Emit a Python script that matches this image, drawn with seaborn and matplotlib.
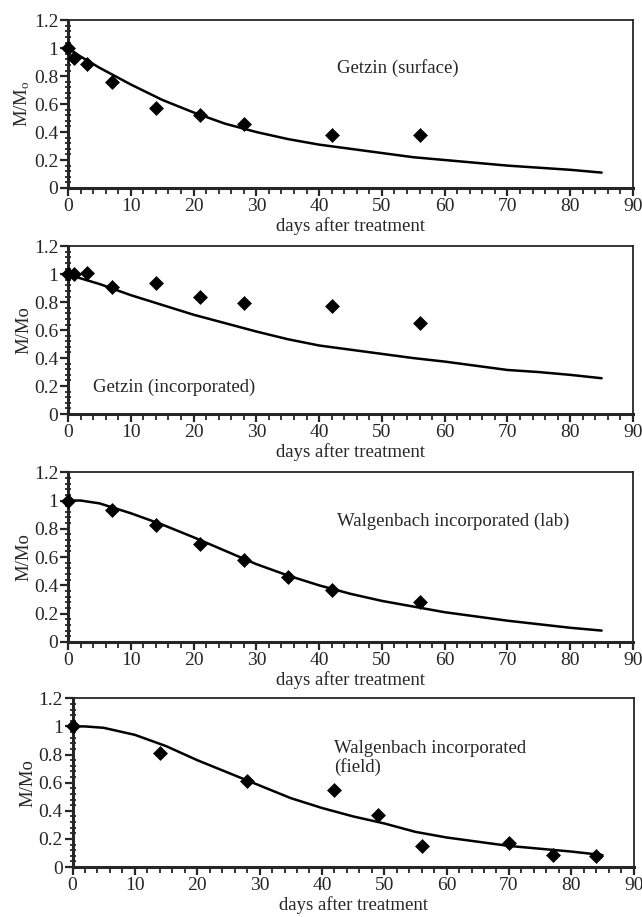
import matplotlib
matplotlib.use("Agg")
import matplotlib.pyplot as plt
from matplotlib.ticker import MultipleLocator, FuncFormatter
import seaborn as sns
import pandas as pd

sns.set_style("ticks")
plt.rcParams["font.family"] = ["Liberation Serif", "DejaVu Serif"]
plt.rcParams["mathtext.fontset"] = "custom"
plt.rcParams["mathtext.rm"] = "Liberation Serif"
plt.rcParams["mathtext.it"] = "Liberation Serif"

# ---- measured residues (M/Mo) ----
surf_days = [0, 1, 3, 7, 14, 21, 28, 42, 56]
surf_obs = [1.0, 0.93, 0.89, 0.76, 0.575, 0.52, 0.46, 0.38, 0.38]

inc_days = [0, 1, 3, 7, 14, 21, 28, 42, 56]
inc_obs = [1.0, 1.0, 1.01, 0.91, 0.94, 0.84, 0.795, 0.775, 0.65]

lab_days = [0, 7, 14, 21, 28, 35, 42, 56]
lab_obs = [1.0, 0.93, 0.83, 0.69, 0.578, 0.46, 0.365, 0.285]

field_days = [0, 14, 28, 42, 49, 56, 70, 77, 84]
field_obs = [1.0, 0.81, 0.61, 0.545, 0.373, 0.15, 0.17, 0.085, 0.075]

# ---- simulated curves (M/Mo) ----
model_days = [0, 2, 5, 10, 15, 20, 25, 30, 35, 40, 45, 50, 55, 60, 65, 70, 75, 80, 85]
surf_model = [1.0, 0.94, 0.86, 0.74, 0.63, 0.54, 0.46, 0.40, 0.35, 0.31, 0.28,
              0.25, 0.22, 0.20, 0.18, 0.16, 0.145, 0.13, 0.11]
inc_model = [1.0, 0.97, 0.93, 0.85, 0.78, 0.71, 0.65, 0.59, 0.535, 0.49, 0.46,
             0.43, 0.40, 0.375, 0.345, 0.315, 0.30, 0.28, 0.256]
lab_model = [1.0, 1.0, 0.98, 0.91, 0.83, 0.74, 0.645, 0.55, 0.47, 0.40, 0.34,
             0.29, 0.25, 0.21, 0.18, 0.15, 0.125, 0.10, 0.08]
field_model = [1.0, 1.0, 0.99, 0.94, 0.86, 0.76, 0.67, 0.58, 0.49, 0.42, 0.36,
               0.31, 0.25, 0.21, 0.18, 0.15, 0.13, 0.11, 0.085]

panel_titles = ["Getzin (surface)", "Getzin (incorporated)",
                "Walgenbach incorporated (lab)", "Walgenbach incorporated\n(field)"]
ylabels = ["M/M$_\\mathrm{o}$", "M/Mo", "M/Mo", "M/Mo"]
xlabel = "days after treatment"

panels = [
    (surf_days, surf_obs, surf_model),
    (inc_days, inc_obs, inc_model),
    (lab_days, lab_obs, lab_model),
    (field_days, field_obs, field_model),
]

# axes rectangles in figure fractions
rects = [
    [0.106, 0.795, 0.880, 0.183],
    [0.106, 0.5485, 0.880, 0.183],
    [0.106, 0.300, 0.880, 0.185],
    [0.113, 0.0545, 0.874, 0.184],
]
title_pos = [(42.8, 0.86), (4.0, 0.19), (42.8, 0.85), (42.0, 0.775)]

fig = plt.figure(figsize=(6.42, 9.17), dpi=100)
FS_TICK = 14
FS_TEXT = 13.5

def fmt(v, _):
    s = f"{v:.1f}"
    if s.endswith(".0"):
        s = s[:-2]
    return s

for i, ((d_obs, y_obs, y_mod), rect) in enumerate(zip(panels, rects)):
    ax = fig.add_axes(rect)
    curve = pd.DataFrame({"day": model_days, "ratio": y_mod})
    obs = pd.DataFrame({"day": d_obs, "ratio": y_obs})
    sns.lineplot(data=curve, x="day", y="ratio", ax=ax, color="black",
                 linewidth=1.8, estimator=None, sort=True)
    sns.scatterplot(data=obs, x="day", y="ratio", ax=ax, marker="D", s=50,
                    color="black", edgecolor="black", linewidth=0.5,
                    clip_on=False, zorder=5)

    ax.set_xlim(0, 90)
    ax.set_ylim(0, 1.2)
    ax.xaxis.set_major_locator(MultipleLocator(10))
    ax.xaxis.set_minor_locator(MultipleLocator(2))
    ax.yaxis.set_major_locator(MultipleLocator(0.2))
    ax.yaxis.set_minor_locator(MultipleLocator(0.04))
    ax.yaxis.set_major_formatter(FuncFormatter(fmt))

    ax.tick_params(axis="x", which="major", direction="out", length=6,
                   width=1.6, labelsize=FS_TICK, pad=1)
    ax.tick_params(axis="x", which="minor", direction="out", length=4, width=1.3)
    ax.tick_params(axis="y", which="major", direction="out", length=6,
                   width=1.6, labelsize=FS_TICK, pad=1)
    ax.tick_params(axis="y", which="minor", direction="inout", length=5, width=1.3)

    for side in ["left", "bottom"]:
        ax.spines[side].set_linewidth(2.2)
    for side in ["top", "right"]:
        ax.spines[side].set_linewidth(1.3)
        ax.spines[side].set_visible(True)

    ax.set_xlabel(xlabel, fontsize=FS_TEXT, labelpad=2)
    ax.set_ylabel(ylabels[i], fontsize=FS_TEXT, labelpad=1)

    tx, ty = title_pos[i]
    ax.text(tx, ty, panel_titles[i], fontsize=FS_TEXT, ha="left", va="center",
            linespacing=1.05)

fig.savefig("out.png", dpi=100, facecolor="white")
